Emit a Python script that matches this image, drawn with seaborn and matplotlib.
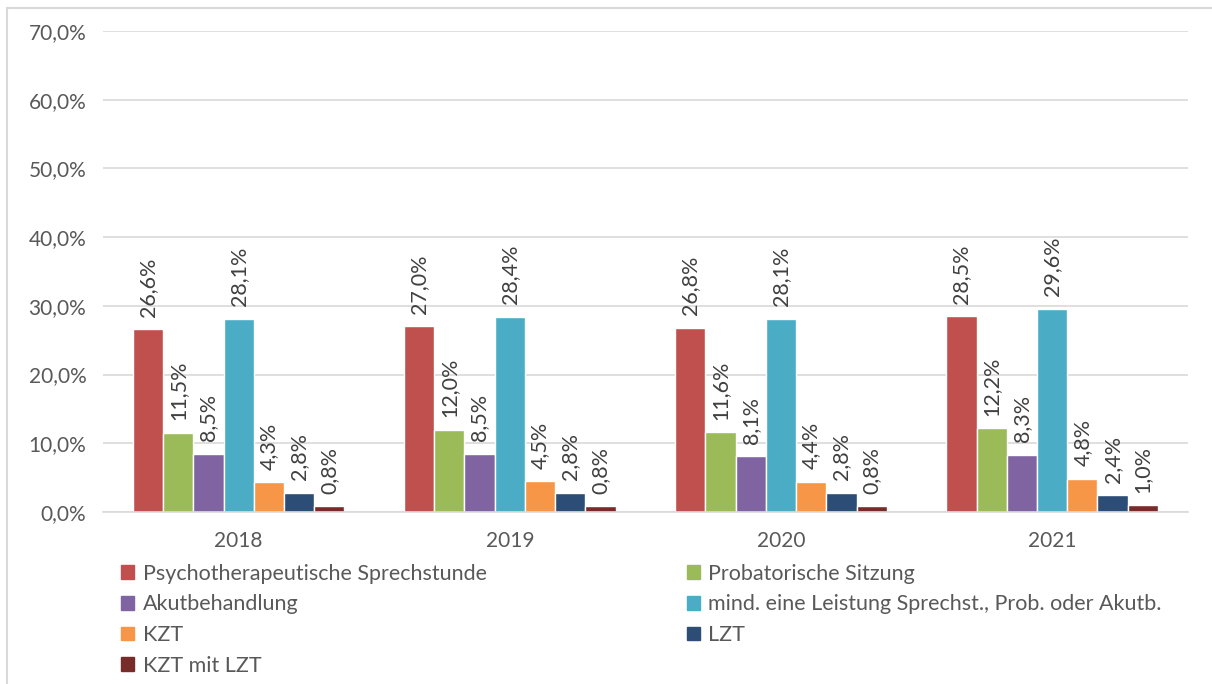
import matplotlib
matplotlib.use("Agg")
import matplotlib.pyplot as plt
import matplotlib.patches as mpatches
import seaborn as sns
import pandas as pd

jahre = ["2018", "2019", "2020", "2021"]
leistungen = [
    "Psychotherapeutische Sprechstunde",
    "Probatorische Sitzung",
    "Akutbehandlung",
    "mind. eine Leistung Sprechst., Prob. oder Akutb.",
    "KZT",
    "LZT",
    "KZT mit LZT",
]
werte = {
    "Psychotherapeutische Sprechstunde": [26.6, 27.0, 26.8, 28.5],
    "Probatorische Sitzung": [11.5, 12.0, 11.6, 12.2],
    "Akutbehandlung": [8.5, 8.5, 8.1, 8.3],
    "mind. eine Leistung Sprechst., Prob. oder Akutb.": [28.1, 28.4, 28.1, 29.6],
    "KZT": [4.3, 4.5, 4.4, 4.8],
    "LZT": [2.8, 2.8, 2.8, 2.4],
    "KZT mit LZT": [0.8, 0.8, 0.8, 1.0],
}
farben = ["#C0504D", "#9BBB59", "#8064A2", "#4BACC6", "#F79646", "#2C4D75", "#772C2A"]

rows = []
for l in leistungen:
    for j, v in zip(jahre, werte[l]):
        rows.append({"Jahr": j, "Leistung": l, "Wert": v})
df = pd.DataFrame(rows)

sns.set_style("white")
plt.rcParams["font.family"] = ["Lato", "DejaVu Sans"]
txt = "#595959"
fs = 15

fig = plt.figure(figsize=(12.12, 6.84), dpi=100)
ax = fig.add_axes([0.085, 0.2515, 0.895, 0.7032])

sns.barplot(data=df, x="Jahr", y="Wert", hue="Leistung", hue_order=leistungen,
            palette=farben, width=0.78, gap=0, saturation=1, ax=ax, legend=False)

for c in ax.containers:
    ax.bar_label(c, labels=[f"{b.get_height():.1f}%".replace(".", ",") for b in c],
                 rotation=90, padding=9, fontsize=15.5, color="#404040")

ax.set_ylim(0, 70)
ax.set_yticks(range(0, 71, 10))
ax.set_yticklabels([f"{t},0%" for t in range(0, 71, 10)])
ax.yaxis.grid(True, color="#D9D9D9", linewidth=1.2)
ax.set_axisbelow(True)
for s in ["left", "right", "top"]:
    ax.spines[s].set_visible(False)
ax.spines["bottom"].set_color("#D9D9D9")
ax.spines["bottom"].set_linewidth(1.2)
ax.tick_params(axis="both", length=0, labelsize=fs, labelcolor=txt)
ax.tick_params(axis="x", pad=14)
ax.tick_params(axis="y", pad=12)
ax.set_xlabel("")
ax.set_ylabel("")

handles = [mpatches.Patch(color=f) for f in farben]
order = [0, 2, 4, 6, 1, 3, 5]
fig.legend([handles[i] for i in order], [leistungen[i] for i in order],
           ncol=2, loc="upper left", bbox_to_anchor=(0.1, 0.176),
           frameon=False, fontsize=15.5, labelcolor=txt,
           handlelength=0.6, handleheight=0.6, handletextpad=0.4,
           columnspacing=9.3, labelspacing=0.5, borderaxespad=0, borderpad=0)

fig.patches.append(mpatches.Rectangle((7 / 1212, -0.01), 1.0, 1 - 8 / 684 + 0.01,
                                      transform=fig.transFigure, fill=False,
                                      edgecolor="#D9D9D9", linewidth=1.5))

fig.savefig("out.png", dpi=100)
